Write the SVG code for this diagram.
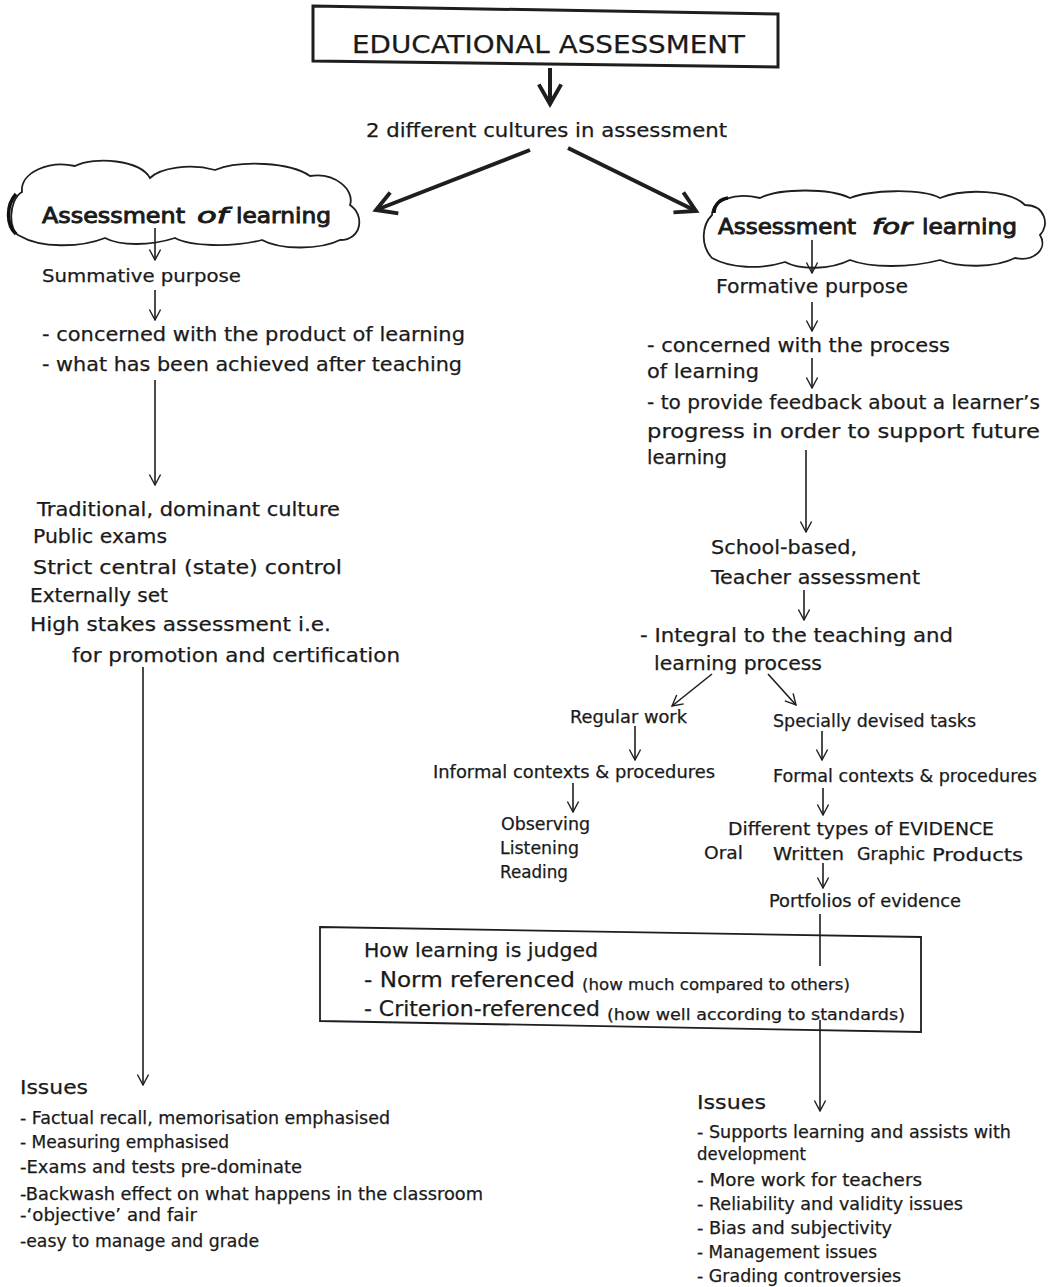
<svg xmlns="http://www.w3.org/2000/svg" width="1048" height="1287" viewBox="0 0 1048 1287">
<style>
.t{font-family:"DejaVu Sans","Liberation Sans",sans-serif;fill:#1a1a1a;stroke:#1a1a1a;stroke-width:0.25}
.s19{font-size:20px}.s20{font-size:21px}.s17{font-size:17px}.s16{font-size:17px}.s15{font-size:16px}
.b{stroke-width:0.9}.i{font-style:italic}
.ln{stroke:#1e1e1e;fill:none;stroke-width:1.6}
.thick{stroke:#1e1e1e;fill:none;stroke-width:4}
.cloud{stroke:#1e1e1e;fill:#fff;stroke-width:1.8}
</style>
<defs>
<marker id="ah" markerUnits="userSpaceOnUse" viewBox="0 0 20 20" markerWidth="14" markerHeight="14" refX="18" refY="10" orient="auto">
<path d="M3,2 L18,10 L3,18" fill="none" stroke="#1e1e1e" stroke-width="2"/>
</marker>
<marker id="ahb" markerUnits="userSpaceOnUse" viewBox="0 0 20 20" markerWidth="28" markerHeight="28" refX="17" refY="10" orient="auto">
<path d="M3,2 L17,10 L3,18" fill="none" stroke="#1e1e1e" stroke-width="2.8"/>
</marker>
</defs>
<rect width="1048" height="1287" fill="#fff"/>

<g id="title">
<polygon points="313,6 778,14 778,67 313,61" fill="#fff" stroke="#1e1e1e" stroke-width="3"/>
<text class="t" x="352" y="53" font-size="25" textLength="393" lengthAdjust="spacingAndGlyphs">EDUCATIONAL ASSESSMENT</text>
</g>

<g id="cultures">
<text class="t s19" x="366" y="137" textLength="361" lengthAdjust="spacingAndGlyphs">2 different cultures in assessment</text>
</g>

<g id="cloud-of">
<path class="cloud" d="M20,236 C8,232 8,200 22,192 C20,172 50,160 75,166 C95,156 140,160 150,178 C160,168 190,163 215,170 C240,160 290,162 310,176 C335,172 355,190 350,205 C365,215 362,240 340,240 C320,250 280,250 262,240 C230,248 190,246 175,238 C150,246 120,246 105,238 C80,248 40,248 20,236 Z"/>
<path d="M16,234 C6,225 6,205 16,194" fill="none" stroke="#111" stroke-width="3.5"/>
<text class="t s20 b" x="42" y="223" textLength="143" lengthAdjust="spacingAndGlyphs">Assessment</text>
<text class="t s20 b i" x="197" y="223" textLength="31" lengthAdjust="spacingAndGlyphs">of</text>
<text class="t s20 b" x="236" y="223" textLength="95" lengthAdjust="spacingAndGlyphs">learning</text>
</g>

<g id="cloud-for">
<path class="cloud" d="M712,258 C700,245 702,225 712,215 C712,200 735,192 760,198 C780,188 830,188 850,198 C870,190 920,188 940,198 C965,188 1010,190 1025,205 C1045,205 1050,225 1040,235 C1048,248 1035,262 1015,258 C995,268 960,268 940,260 C910,268 870,268 850,260 C830,270 800,270 785,262 C760,270 730,268 712,258 Z"/>
<path d="M714,213 C714,205 720,199 728,198" fill="none" stroke="#111" stroke-width="3.5"/>
<text class="t s20 b" x="718" y="234" textLength="138" lengthAdjust="spacingAndGlyphs">Assessment</text>
<text class="t s20 b i" x="872" y="234" textLength="40" lengthAdjust="spacingAndGlyphs">for</text>
<text class="t s20 b" x="922" y="234" textLength="95" lengthAdjust="spacingAndGlyphs">learning</text>
</g>

<g id="summative">
<text class="t s17" x="42" y="282" textLength="199" lengthAdjust="spacingAndGlyphs">Summative purpose</text>
</g>
<g id="product">
<text class="t s19" x="42" y="341" textLength="423" lengthAdjust="spacingAndGlyphs">- concerned with the product of learning</text>
<text class="t s19" x="42" y="371" textLength="420" lengthAdjust="spacingAndGlyphs">- what has been achieved after teaching</text>
</g>
<g id="traditional">
<text class="t s19" x="37" y="516" textLength="303" lengthAdjust="spacingAndGlyphs">Traditional, dominant culture</text>
<text class="t s19" x="33" y="543" textLength="134" lengthAdjust="spacingAndGlyphs">Public exams</text>
<text class="t s19" x="33" y="574" textLength="309" lengthAdjust="spacingAndGlyphs">Strict central (state) control</text>
<text class="t s19" x="30" y="602" textLength="138" lengthAdjust="spacingAndGlyphs">Externally set</text>
<text class="t s19" x="30" y="631" textLength="301" lengthAdjust="spacingAndGlyphs">High stakes assessment i.e.</text>
<text class="t s19" x="72" y="662" textLength="328" lengthAdjust="spacingAndGlyphs">for promotion and certification</text>
</g>
<g id="issues-left">
<text class="t s19" x="20" y="1094" textLength="68" lengthAdjust="spacingAndGlyphs">Issues</text>
<text class="t s16" x="20" y="1124" textLength="370" lengthAdjust="spacingAndGlyphs">- Factual recall, memorisation emphasised</text>
<text class="t s16" x="20" y="1148" textLength="209" lengthAdjust="spacingAndGlyphs">- Measuring emphasised</text>
<text class="t s16" x="20" y="1173" textLength="282" lengthAdjust="spacingAndGlyphs">-Exams and tests pre-dominate</text>
<text class="t s16" x="20" y="1200" textLength="463" lengthAdjust="spacingAndGlyphs">-Backwash effect on what happens in the classroom</text>
<text class="t s16" x="20" y="1221" textLength="177" lengthAdjust="spacingAndGlyphs">-‘objective’ and fair</text>
<text class="t s16" x="20" y="1247" textLength="239" lengthAdjust="spacingAndGlyphs">-easy to manage and grade</text>
</g>

<g id="formative">
<text class="t s19" x="716" y="293" textLength="192" lengthAdjust="spacingAndGlyphs">Formative purpose</text>
</g>
<g id="process">
<text class="t s19" x="647" y="352" textLength="303" lengthAdjust="spacingAndGlyphs">- concerned with the process</text>
<text class="t s19" x="647" y="378" textLength="112" lengthAdjust="spacingAndGlyphs">of learning</text>
</g>
<g id="feedback">
<text class="t s19" x="647" y="409" textLength="393" lengthAdjust="spacingAndGlyphs">- to provide feedback about a learner’s</text>
<text class="t s19" x="647" y="438" textLength="393" lengthAdjust="spacingAndGlyphs">progress in order to support future</text>
<text class="t s19" x="647" y="464" textLength="80" lengthAdjust="spacingAndGlyphs">learning</text>
</g>
<g id="school">
<text class="t s19" x="711" y="554" textLength="146" lengthAdjust="spacingAndGlyphs">School-based,</text>
<text class="t s19" x="711" y="584" textLength="209" lengthAdjust="spacingAndGlyphs">Teacher assessment</text>
</g>
<g id="integral">
<text class="t s19" x="640" y="642" textLength="313" lengthAdjust="spacingAndGlyphs">- Integral to the teaching and</text>
<text class="t s19" x="654" y="670" textLength="168" lengthAdjust="spacingAndGlyphs">learning process</text>
</g>
<g id="regular">
<text class="t s16" x="570" y="723" textLength="117" lengthAdjust="spacingAndGlyphs">Regular work</text>
</g>
<g id="special">
<text class="t s16" x="773" y="727" textLength="203" lengthAdjust="spacingAndGlyphs">Specially devised tasks</text>
</g>
<g id="informal">
<text class="t s16" x="433" y="778" textLength="282" lengthAdjust="spacingAndGlyphs">Informal contexts &amp; procedures</text>
</g>
<g id="formal">
<text class="t s16" x="773" y="782" textLength="264" lengthAdjust="spacingAndGlyphs">Formal contexts &amp; procedures</text>
</g>
<g id="observing">
<text class="t s16" x="501" y="830" textLength="89" lengthAdjust="spacingAndGlyphs">Observing</text>
<text class="t s16" x="500" y="854" textLength="79" lengthAdjust="spacingAndGlyphs">Listening</text>
<text class="t s16" x="500" y="878" textLength="68" lengthAdjust="spacingAndGlyphs">Reading</text>
</g>
<g id="evidence">
<text class="t s16" x="728" y="835" textLength="266" lengthAdjust="spacingAndGlyphs">Different types of EVIDENCE</text>
<text class="t s16" x="704" y="859" textLength="39" lengthAdjust="spacingAndGlyphs">Oral</text>
<text class="t s16" x="773" y="860" textLength="71" lengthAdjust="spacingAndGlyphs">Written</text>
<text class="t s16" x="857" y="860" textLength="68" lengthAdjust="spacingAndGlyphs">Graphic</text>
<text class="t s16" x="932" y="861" textLength="91" lengthAdjust="spacingAndGlyphs">Products</text>
</g>
<g id="portfolios">
<text class="t s16" x="769" y="907" textLength="192" lengthAdjust="spacingAndGlyphs">Portfolios of evidence</text>
</g>
<g id="judged">
<polygon points="320,927 921,937 921,1032 320,1021" fill="none" stroke="#1e1e1e" stroke-width="1.8"/>
<text class="t s19" x="364" y="957" textLength="234" lengthAdjust="spacingAndGlyphs">How learning is judged</text>
<text class="t s20" x="364" y="987" textLength="211" lengthAdjust="spacingAndGlyphs">- Norm referenced</text>
<text class="t s15" x="582" y="990" textLength="268" lengthAdjust="spacingAndGlyphs">(how much compared to others)</text>
<text class="t s20" x="364" y="1016" textLength="236" lengthAdjust="spacingAndGlyphs">- Criterion-referenced</text>
<text class="t s15" x="607" y="1020" textLength="298" lengthAdjust="spacingAndGlyphs">(how well according to standards)</text>
</g>
<g id="issues-right">
<text class="t s19" x="697" y="1109" textLength="69" lengthAdjust="spacingAndGlyphs">Issues</text>
<text class="t s16" x="697" y="1138" textLength="314" lengthAdjust="spacingAndGlyphs">- Supports learning and assists with</text>
<text class="t s16" x="697" y="1160" textLength="109" lengthAdjust="spacingAndGlyphs">development</text>
<text class="t s16" x="697" y="1186" textLength="225" lengthAdjust="spacingAndGlyphs">- More work for teachers</text>
<text class="t s16" x="697" y="1210" textLength="266" lengthAdjust="spacingAndGlyphs">- Reliability and validity issues</text>
<text class="t s16" x="697" y="1234" textLength="195" lengthAdjust="spacingAndGlyphs">- Bias and subjectivity</text>
<text class="t s16" x="697" y="1258" textLength="180" lengthAdjust="spacingAndGlyphs">- Management issues</text>
<text class="t s16" x="697" y="1282" textLength="204" lengthAdjust="spacingAndGlyphs">- Grading controversies</text>
</g>

<g id="connectors">
<line class="thick" x1="550" y1="68" x2="550" y2="104" marker-end="url(#ahb)"/>
<line class="thick" x1="530" y1="150" x2="376" y2="210" marker-end="url(#ahb)"/>
<line class="thick" x1="568" y1="148" x2="696" y2="211" marker-end="url(#ahb)"/>
<line class="ln" x1="155" y1="228" x2="155" y2="260" marker-end="url(#ah)"/>
<line class="ln" x1="155" y1="290" x2="155" y2="320" marker-end="url(#ah)"/>
<line class="ln" x1="155" y1="380" x2="155" y2="485" marker-end="url(#ah)"/>
<line class="ln" x1="143" y1="667" x2="143" y2="1085" marker-end="url(#ah)"/>
<line class="ln" x1="812" y1="240" x2="812" y2="273" marker-end="url(#ah)"/>
<line class="ln" x1="812" y1="302" x2="812" y2="331" marker-end="url(#ah)"/>
<line class="ln" x1="812" y1="358" x2="812" y2="388" marker-end="url(#ah)"/>
<line class="ln" x1="806" y1="450" x2="806" y2="532" marker-end="url(#ah)"/>
<line class="ln" x1="804" y1="590" x2="804" y2="620" marker-end="url(#ah)"/>
<line class="ln" x1="712" y1="674" x2="672" y2="706" marker-end="url(#ah)"/>
<line class="ln" x1="768" y1="674" x2="796" y2="705" marker-end="url(#ah)"/>
<line class="ln" x1="635" y1="726" x2="635" y2="760" marker-end="url(#ah)"/>
<line class="ln" x1="822" y1="731" x2="822" y2="760" marker-end="url(#ah)"/>
<line class="ln" x1="573" y1="783" x2="573" y2="812" marker-end="url(#ah)"/>
<line class="ln" x1="823" y1="788" x2="823" y2="815" marker-end="url(#ah)"/>
<line class="ln" x1="823" y1="863" x2="823" y2="888" marker-end="url(#ah)"/>
<line class="ln" x1="820" y1="914" x2="820" y2="966"/>
<line class="ln" x1="820" y1="1020" x2="820" y2="1111" marker-end="url(#ah)"/>
</g>
</svg>
